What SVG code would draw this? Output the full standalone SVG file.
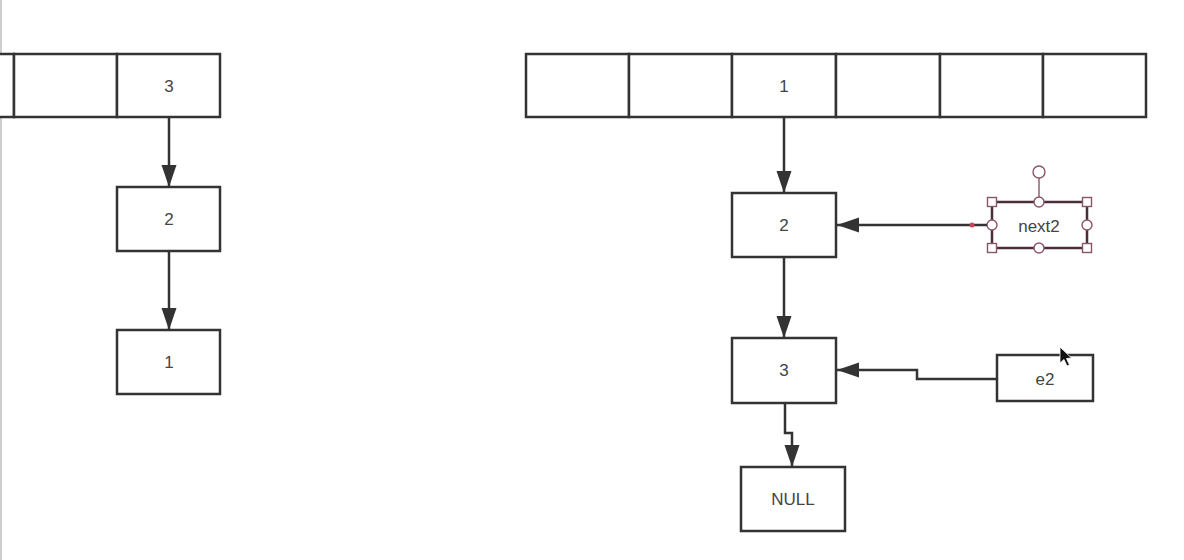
<svg xmlns="http://www.w3.org/2000/svg" width="1184" height="560" viewBox="0 0 1184 560">
  <style>
    .cell { fill: #ffffff; stroke: #333333; stroke-width: 2.5; }
    .lbl { font-family: "Liberation Sans", Arial, sans-serif; font-size: 17px; fill: #444444; text-anchor: middle; dominant-baseline: central; }
    .wire { fill: none; stroke: #333333; stroke-width: 2.5; }
    .sel { fill: none; stroke: #4a2f38; stroke-width: 2.5; }
    .hs { fill: #ffffff; stroke: #8a5566; stroke-width: 1.4; }
  </style>
  <defs>
    <marker id="arrow" markerUnits="userSpaceOnUse" markerWidth="23" markerHeight="16" refX="22" refY="8" orient="auto">
      <path d="M0,0.5 L22,8 L0,15.5 z" fill="#333333"/>
    </marker>
  </defs>

  <rect width="1184" height="560" fill="#ffffff"/>
  <!-- window edge on the left -->
  <line x1="1" y1="0" x2="1" y2="560" stroke="#bdbdbd" stroke-width="1.5"/>

  <!-- left bucket array (partially visible) -->
  <g id="left-array">
    <rect class="cell" x="-90" y="54" width="104" height="63"/>
    <rect class="cell" x="14" y="54" width="103" height="63"/>
    <rect class="cell" x="117" y="54" width="103" height="63"/>
    <text class="lbl" x="169" y="86">3</text>
  </g>

  <g id="left-node-2">
    <rect class="cell" x="117" y="187" width="103" height="64"/>
    <text class="lbl" x="169" y="219">2</text>
  </g>

  <g id="left-node-1">
    <rect class="cell" x="117" y="330" width="103" height="64"/>
    <text class="lbl" x="169" y="362">1</text>
  </g>

  <!-- right bucket array -->
  <g id="right-array">
    <rect class="cell" x="526" y="54" width="103" height="63"/>
    <rect class="cell" x="629" y="54" width="103" height="63"/>
    <rect class="cell" x="732" y="54" width="104" height="63"/>
    <rect class="cell" x="836" y="54" width="104" height="63"/>
    <rect class="cell" x="940" y="54" width="103" height="63"/>
    <rect class="cell" x="1043" y="54" width="103" height="63"/>
    <text class="lbl" x="784" y="86">1</text>
  </g>

  <g id="right-node-2">
    <rect class="cell" x="732" y="193" width="104" height="64"/>
    <text class="lbl" x="784" y="225">2</text>
  </g>

  <g id="right-node-3">
    <rect class="cell" x="732" y="338" width="104" height="65"/>
    <text class="lbl" x="784" y="370">3</text>
  </g>

  <g id="null-node">
    <rect class="cell" x="741" y="467" width="104" height="64"/>
    <text class="lbl" x="793" y="499">NULL</text>
  </g>

  <g id="e2-node">
    <rect class="cell" x="997" y="355" width="96" height="46"/>
    <text class="lbl" x="1045" y="379">e2</text>
  </g>

  <!-- next2, shown selected with its edit handles -->
  <g id="next2-node">
    <rect class="sel" x="992" y="202" width="95" height="46" fill="#ffffff"/>
    <text class="lbl" x="1039" y="226">next2</text>
    <line x1="1039" y1="178" x2="1039" y2="202" stroke="#8a5566" stroke-width="1.4"/>
    <circle class="hs" cx="1039" cy="172" r="6"/>
    <rect class="hs" x="987.5" y="197.5" width="9" height="9"/>
    <rect class="hs" x="1082.5" y="197.5" width="9" height="9"/>
    <rect class="hs" x="987.5" y="243.5" width="9" height="9"/>
    <rect class="hs" x="1082.5" y="243.5" width="9" height="9"/>
    <circle class="hs" cx="1039" cy="202" r="5"/>
    <circle class="hs" cx="1039" cy="248" r="5"/>
    <circle class="hs" cx="992" cy="225" r="5"/>
    <circle class="hs" cx="1087" cy="225" r="5"/>
  </g>

  <g id="connectors">
    <path class="wire" d="M169,117 V187" marker-end="url(#arrow)"/>
    <path class="wire" d="M169,251 V330" marker-end="url(#arrow)"/>
    <path class="wire" d="M784,117 V193" marker-end="url(#arrow)"/>
    <path class="wire" d="M784,257 V338" marker-end="url(#arrow)"/>
    <path class="wire" d="M785,403 V433 H792 V467" marker-end="url(#arrow)"/>
    <path class="wire" d="M987,225 H837" marker-end="url(#arrow)"/>
    <circle cx="972" cy="225" r="2.5" fill="#d04050"/>
    <path class="wire" d="M997,379 H917 V370 H837" marker-end="url(#arrow)"/>
  </g>

  <!-- mouse pointer -->
  <path d="M1060,347 L1060,363 L1064,359.5 L1067,366 L1069.5,365 L1066.5,358.5 L1071.5,358 Z" fill="#111111" stroke="#ffffff" stroke-width="0.8"/>
</svg>
